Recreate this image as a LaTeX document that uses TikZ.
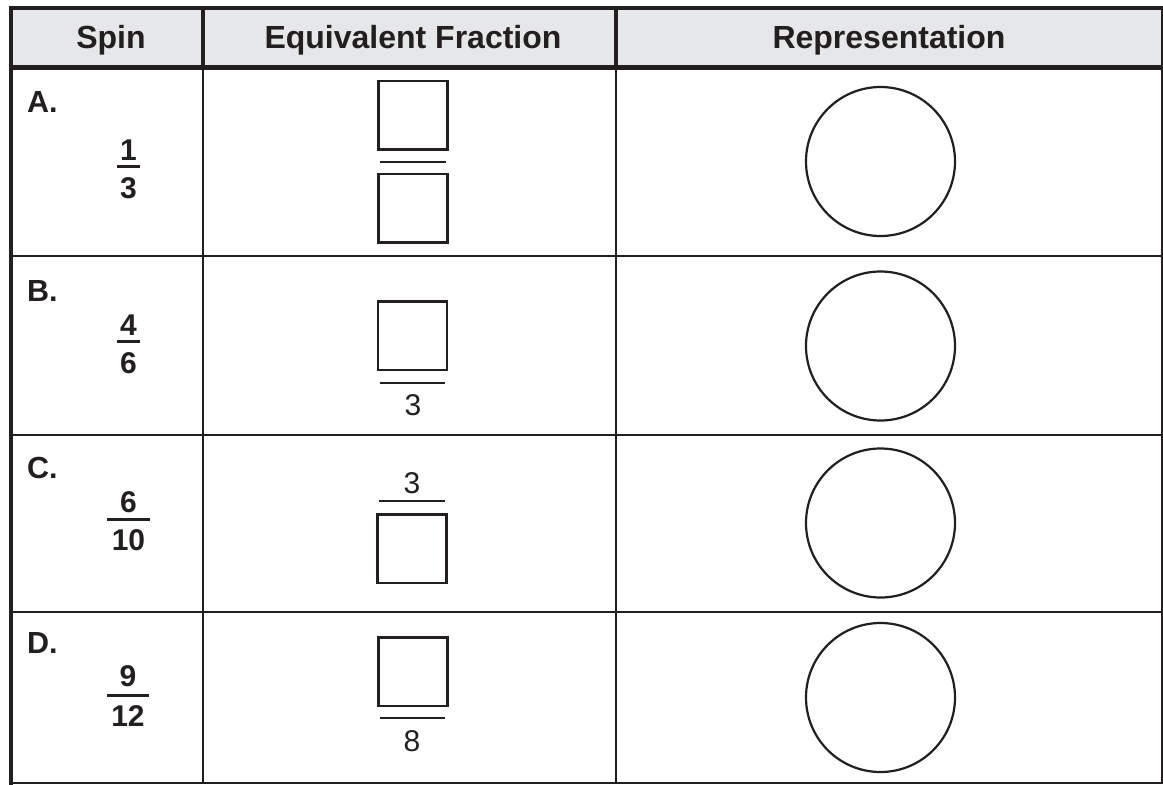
\documentclass[tikz,border=0pt]{standalone}
\usepackage{fontspec}
\setmainfont{Liberation Sans}
\definecolor{ink}{HTML}{231F20}
\definecolor{headfill}{HTML}{E6E7E8}
\tikzset{
  gridline/.style={ink, line width=2pt},
  boldline/.style={ink, line width=4.5pt},
  hdrtext/.style={inner sep=0pt, anchor=base, text=ink, font=\fontsize{32}{38}\selectfont\bfseries},
  lbltext/.style={inner sep=0pt, anchor=base west, text=ink, font=\fontsize{30.5}{36}\selectfont\bfseries},
  spintext/.style={inner sep=0pt, anchor=base, text=ink, font=\fontsize{30}{36}\selectfont\bfseries},
  eqtext/.style={inner sep=0pt, anchor=base, text=ink, font=\fontsize{30}{36}\selectfont},
  spinbar/.style={ink, line width=3pt},
  eqbar/.style={ink, line width=2.5pt},
  answerbox/.style={draw=ink, line width=2.5pt, minimum width=69pt, minimum height=68.5pt, inner sep=0pt},
  repcircle/.style={draw=ink, line width=2.2pt, circle, minimum size=149pt, inner sep=0pt}
}
\begin{document}
\begin{tikzpicture}[x=1pt,y=-1pt]
\useasboundingbox (0,0) rectangle (1163,785);
\fill[white] (0,0) rectangle (1163,785);
% header band
\fill[headfill] (11,7.5) rectangle (1162,67.5);
% grid
\foreach \yy in {256,435,611.5} \draw[gridline] (11,\yy) -- (1162,\yy);
\draw[gridline] (11,783) -- (1162,783);
\draw[gridline] (1162,7.5) -- (1162,784);
\draw[gridline] (203,67.5) -- (203,784);
\draw[gridline] (616,67.5) -- (616,784);
\draw[ink, line width=3.5pt] (203,7.5) -- (203,67.5);
\draw[ink, line width=3.5pt] (616,7.5) -- (616,67.5);
\draw[boldline] (11,5.5) -- (11,785);
\draw[ink, line width=4pt] (9,7.5) -- (1163,7.5);
\draw[boldline] (9,67.5) -- (1163,67.5);
% header text
\node[hdrtext] (hspin) at (111,48) {Spin};
\node[hdrtext] (hfrac) at (413,48) {Equivalent Fraction};
\node[hdrtext] (hrep) at (889,48) {Representation};
% row labels
\node[lbltext] (la) at (27,112) {A.};
\node[lbltext] (lb) at (27,301) {B.};
\node[lbltext] (lc) at (27,478) {C.};
\node[lbltext] (ld) at (27,653) {D.};
% spin fractions
\node[spintext] (na) at (128.5,160) {1};
\draw[spinbar] (117,166.5) -- (140,166.5);
\node[spintext] (da) at (128.5,198) {3};
\node[spintext] (nb) at (128.5,335) {4};
\draw[spinbar] (117,341.5) -- (140,341.5);
\node[spintext] (db) at (128.5,373) {6};
\node[spintext] (nc) at (128.5,512) {6};
\draw[spinbar] (107,519) -- (150,519);
\node[spintext] (dc) at (128.5,550) {10};
\node[spintext] (nd) at (128,686) {9};
\draw[spinbar] (107,695) -- (149,695);
\node[spintext] (dd) at (128,726) {12};
% equivalent fractions
\node[answerbox] (ea1) at (413,115) {};
\draw[eqbar] (380,162) -- (446,162);
\node[answerbox] (ea2) at (413,208) {};
\node[answerbox] (eb1) at (412.5,335.5) {};
\draw[eqbar] (380,383) -- (445,383);
\node[eqtext] (eb2) at (413,415) {3};
\node[eqtext] (ec1) at (412,493) {3};
\draw[eqbar] (379,501) -- (445,501);
\node[answerbox] (ec2) at (412,548.5) {};
\node[answerbox] (ed1) at (413,671.5) {};
\draw[eqbar] (380,718) -- (445,718);
\node[eqtext] (ed2) at (412,751) {8};
% representation circles
\node[repcircle] (ca) at (880.5,161.5) {};
\node[repcircle] (cb) at (880.5,346) {};
\node[repcircle] (cc) at (880.5,523) {};
\node[repcircle] (cd) at (880.5,697.5) {};
\end{tikzpicture}
\end{document}
